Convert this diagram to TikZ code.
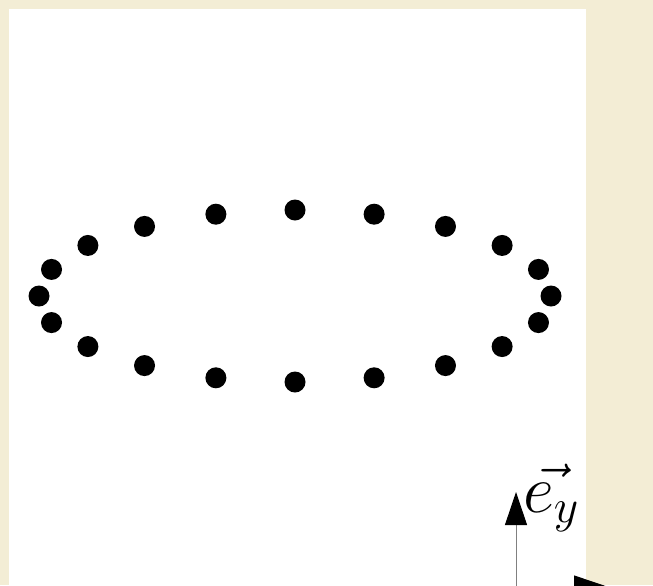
\documentclass[tikz,border=0pt]{standalone}
\usepackage{fix-cm}
\usepackage{amsmath}
\usepackage{tikz}
\usetikzlibrary{arrows.meta}
\definecolor{parchment}{RGB}{243,237,213}

\begin{document}
\begin{tikzpicture}[x=0.03cm, y=-0.03cm,
    dot/.style={circle, fill=black, inner sep=0pt, minimum size=0.63cm},
    basis/.style={gray, line width=0.03cm, -{Triangle[length=0.99cm, width=0.66cm, color=black]}}]
    \useasboundingbox (0, 0) rectangle (653, 585);
    \clip (0, 0) rectangle (653, 585);

    % background
    \fill[parchment] (0, 0) rectangle (653, 585);
    \fill[white] (9, 9) rectangle (586, 600);

    % ring of particles
    \foreach \i in {1,...,20}
        \node[dot] (p\i) at ({295 + 256*cos(18*\i)}, {296 + 86*sin(18*\i)}) {};

    % basis vectors
    \coordinate (O) at (516, 586.5);
    \coordinate (ey) at (516, 492);
    \coordinate (ex) at (607, 586.5);
    \draw[basis] (O) -- (ey);
    \draw[basis] (O) -- (ex);
    \node[font=\fontsize{58}{60}\selectfont, anchor=center] (ylabel) at (551, 498) {$\vec{e_y}$};
\end{tikzpicture}
\end{document}
